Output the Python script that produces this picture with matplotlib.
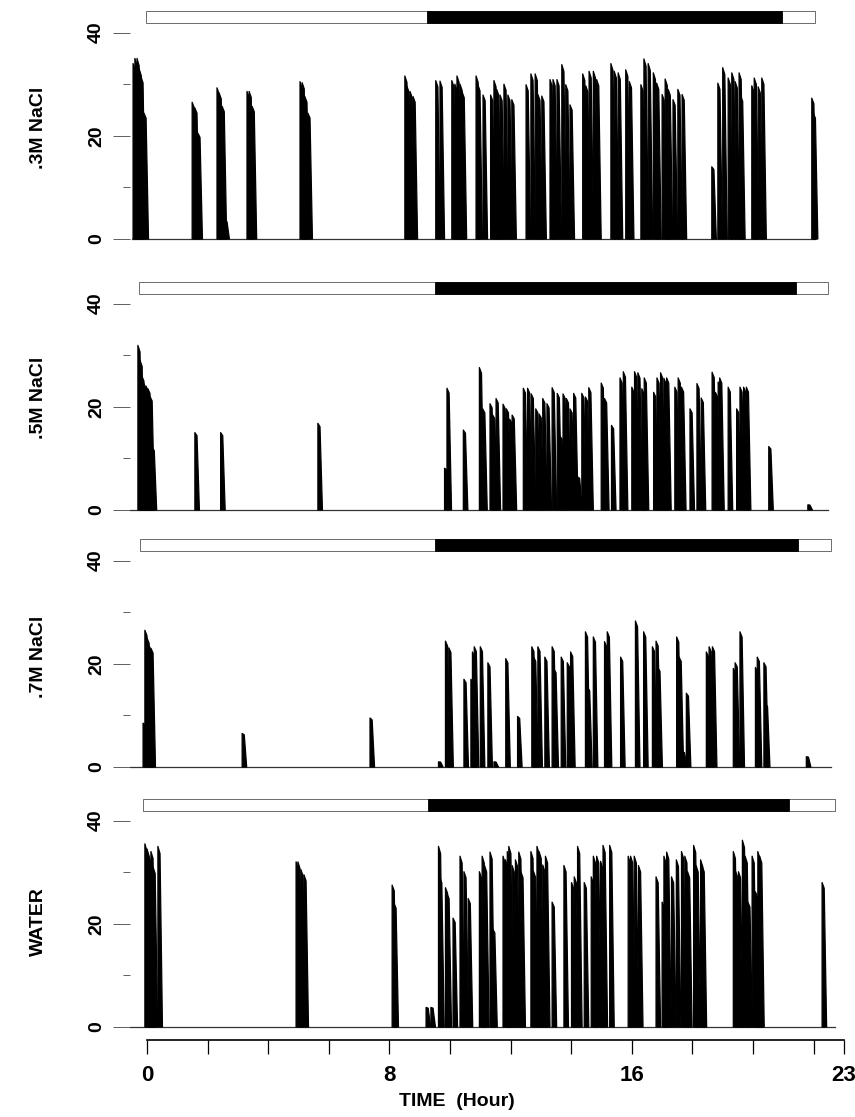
import matplotlib
matplotlib.use('Agg')
import matplotlib.pyplot as plt
from matplotlib.collections import PolyCollection
from matplotlib.patches import Rectangle

# ---------------- data (hours, licks) ----------------
panel_labels = ['.3M NaCl', '.5M NaCl', '.7M NaCl', 'WATER']

nacl03_times = [-0.46, -0.40, -0.33, -0.26, -0.20, -0.10,
                1.49, 1.58, 1.68,
                2.31, 2.38, 2.48, 2.57,
                3.30, 3.37, 3.47,
                5.05, 5.12, 5.21, 5.31,
                8.51, 8.58, 8.68, 8.78,
                9.53, 9.67, 10.06, 10.16, 10.23, 10.33, 10.40,
                10.86, 10.92, 11.09, 11.34, 11.45, 11.54,
                11.65, 11.78, 11.91, 12.04,
                12.51, 12.67, 12.81, 12.90, 13.03,
                13.30, 13.40, 13.53, 13.69, 13.82, 13.96,
                14.38, 14.48, 14.59, 14.73, 14.84,
                15.31, 15.42, 15.55, 15.80, 15.92,
                16.30, 16.40, 16.54, 16.71, 16.82,
                17.00, 17.10, 17.20, 17.36, 17.52, 17.66,
                18.64, 18.84, 19.00, 19.18, 19.30, 19.41, 19.54, 19.59,
                19.96, 20.04, 20.17, 20.29,
                21.94, 21.99]
nacl03_licks = [34, 35, 35, 33, 31.5, 24.4,
                26.5, 25.4, 20.5,
                29.3, 28.3, 25.7, 3.5,
                28.6, 28.6, 25.7,
                30.5, 30.3, 27.6, 24.4,
                31.6, 29.6, 28.6, 27.6,
                30.7, 30.6, 30.7, 30, 31.6, 30, 28.5,
                31.6, 29.9, 27.9, 27.9, 30.7, 29.0,
                27.9, 30.0, 27.9, 27.0,
                29.9, 32.0, 32.0, 28, 27.7,
                30.9, 30.9, 30.9, 33.8, 29.9, 26,
                32, 29.7, 32.5, 32.5, 30.9,
                34, 32.5, 32.2, 32.8, 30.5,
                29.9, 34.9, 34.0, 32.2, 30.2,
                28, 31, 29, 27, 29, 28,
                14, 30.2, 33.2, 31.2, 32.2, 30.5, 32.2, 27.8,
                29.7, 31.2, 29.5, 31.2,
                27.3, 24.4]

nacl05_times = [-0.30, -0.23, -0.17, -0.10, -0.03, 0.03, 0.10, 0.17,
                1.58, 2.43, 5.64,
                9.82, 9.90, 10.44, 10.97, 11.08,
                11.32, 11.41, 11.52,
                11.75, 11.86, 11.97, 12.05,
                12.42, 12.56, 12.68, 12.83, 12.94, 13.06, 13.20,
                13.37, 13.54, 13.63, 13.73, 13.84, 13.96, 14.08, 14.21,
                14.35, 14.47, 14.58,
                14.99, 15.10, 15.33,
                15.61, 15.72,
                16.00, 16.09, 16.20, 16.33, 16.41,
                16.72, 16.83, 16.95, 17.06, 17.15,
                17.42, 17.53, 17.64,
                17.92, 18.15, 18.29,
                18.65, 18.76, 18.85, 18.90,
                19.18,
                19.46, 19.57, 19.69, 19.78,
                20.52, 21.81]
nacl05_licks = [31.9, 29, 26, 24.5, 24, 23.5, 22, 12,
                15, 15, 16.8,
                8.1, 23.6, 15.5, 27.6, 19.6,
                20.6, 18.4, 21.6,
                20.5, 19.6, 17.6, 18.4,
                23.6, 23.6, 22.5, 19.6, 18.6, 21.6, 20.6,
                23.7, 22.6, 14.3, 22.5, 21.6, 19.6, 22.6, 6.4,
                22.6, 21.9, 23.7,
                24.6, 21.6, 16.4,
                25.6, 26.8,
                23.8, 26.8, 26.6, 23.5, 25.6,
                22.8, 25.6, 26.6, 25.5, 25.6,
                23.8, 25.6, 23.8,
                19.6, 24.5, 21.7,
                26.7, 22.8, 24.8, 25.6,
                23.8,
                19.6, 23.8, 23.8, 23.8,
                12.3, 1.0]

nacl07_times = [-0.13, -0.07, 0.00, 0.07, 0.13,
                3.14, 7.36,
                9.62, 9.85, 9.96,
                10.46, 10.69, 10.74, 10.80, 11.00,
                11.25, 11.45, 11.84, 12.23,
                12.70, 12.76, 12.90, 13.13,
                13.37, 13.43, 13.67, 13.87, 13.98,
                14.47, 14.54, 14.73,
                15.10, 15.19, 15.63,
                16.12, 16.39,
                16.68, 16.80, 16.86,
                17.48, 17.56, 17.67, 17.80,
                18.46, 18.55, 18.66,
                19.35, 19.41, 19.57,
                20.08, 20.14, 20.36, 20.41,
                21.76]
nacl07_licks = [8.5, 26.5, 25, 23.5, 23,
                6.5, 9.5,
                1, 24.4, 23.1,
                17.0, 17.0, 22.3, 23.3, 23.3,
                20.2, 1, 21.0, 9.8,
                23.3, 21.3, 23.3, 21.3,
                23.3, 19.0, 21.3, 20.2, 22.3,
                26.2, 15.4, 25.2,
                24.3, 26.2, 21.3,
                28.3, 26.2,
                23.3, 24.4, 19.3,
                25.2, 21.3, 2.9, 14.3,
                22.3, 23.3, 23.3,
                19.1, 20.2, 26.2,
                19.3, 21.3, 20.2, 12.2,
                2.0]

water_times = [-0.07, 0.00, 0.07, 0.13, 0.20, 0.36,
               4.92, 4.98, 5.08, 5.18,
               8.09, 8.15,
               9.21, 9.37,
               9.62, 9.66, 9.85, 9.90, 10.10,
               10.33, 10.46, 10.60,
               10.97, 11.06, 11.14, 11.32, 11.41,
               11.75, 11.83, 11.89, 11.94,
               12.05, 12.16, 12.27, 12.34,
               12.67, 12.76, 12.87, 12.94, 13.06, 13.15, 13.37,
               13.76, 14.01, 14.10, 14.21, 14.43,
               14.66, 14.73, 14.84, 14.97, 15.05, 15.27,
               15.88, 15.96, 16.08, 16.22,
               16.80, 17.00, 17.06, 17.15, 17.31, 17.47, 17.64, 17.75, 17.84,
               18.04, 18.12, 18.27, 18.32,
               19.35, 19.43, 19.52, 19.65, 19.74, 19.83,
               19.97, 20.08, 20.16, 20.22,
               22.28]
water_licks = [35.5, 34.5, 33, 34, 31, 35,
               32, 32, 30.5, 29.5,
               27.5, 24,
               3.8, 3.8,
               35.0, 29.1, 27.0, 25.9, 21.1,
               33.1, 30.1, 24.9,
               30.1, 33.1, 31.3, 33.9, 19.0,
               33.1, 32.4, 34.0, 35.0,
               31.3, 32.4, 33.9, 30.1,
               34.0, 30.1, 35.0, 34.0, 31.4, 33.1, 24.2,
               31.3, 28.0, 29.1, 35.0, 28.0,
               29.1, 33.1, 33.1, 32.1, 35.2, 35.2,
               33.1, 33.1, 33.1, 31.3,
               29.1, 24.2, 33.1, 33.9, 29.1, 32.4, 34.0, 33.1, 30.1,
               35.2, 31.3, 32.4, 31.3,
               34.0, 30.1, 30.1, 36.2, 33.1, 24.2,
               33.1, 26.2, 34.0, 33.1,
               28.0]

# light/dark bar per panel (hours)
bar_start = [-0.04, -0.26, -0.23, -0.13]
dark_start = [9.24, 9.50, 9.51, 9.29]
dark_end = [20.96, 21.42, 21.48, 21.19]
bar_end = [22.05, 22.48, 22.59, 22.71]

x_ticks = [0, 2, 4, 6, 8, 10, 12, 14, 16, 18, 20, 22, 23]
x_labeled = [0, 8, 16, 23]
y_major = [0, 20, 40]
y_minor = [10, 30]

panel_times = [nacl03_times, nacl05_times, nacl07_times, water_times]
panel_licks = [nacl03_licks, nacl05_licks, nacl07_licks, water_licks]

# ---------------- layout ----------------
W, H = 855, 1117
fig = plt.figure(figsize=(W / 100, H / 100), dpi=100)
fig.patch.set_facecolor('white')

FONT = ['Liberation Sans', 'DejaVu Sans']
NARROW = ['Liberation Sans Narrow', 'Liberation Sans', 'DejaVu Sans']

PX_PER_H = 30.3
X0_PX = 147
LEFT_PX, RIGHT_PX = 130, 850
xlim = ((LEFT_PX - X0_PX) / PX_PER_H, (RIGHT_PX - X0_PX) / PX_PER_H)

S = 5.16                      # px per lick unit
YLO, YHI = -1.5, 45.5
baselines_px = [239, 510, 767, 1027]
label_y_px = [128, 398, 657, 922]
SPIKE_W = 0.15                # wedge foot offset in hours
SPIKE_TOP = 0.07              # wedge top width in hours
BAR_LO, BAR_HI = 41.8, 44.1


def fx(px):
    return px / W


def fy(px):
    return 1 - px / H


for i in range(4):
    yb = baselines_px[i]
    top_px = yb - YHI * S
    bot_px = yb - YLO * S
    ax = fig.add_axes([fx(LEFT_PX), fy(bot_px), fx(RIGHT_PX - LEFT_PX),
                       (bot_px - top_px) / H])
    ax.set_xlim(*xlim)
    ax.set_ylim(YLO, YHI)
    for sp in ax.spines.values():
        sp.set_visible(False)
    ax.set_xticks([])

    # baseline
    ax.plot([bar_start[i] - 0.45, bar_end[i]], [0, 0], color='#333333',
            lw=0.9, zorder=1)

    # lick spikes (slanted thick strokes)
    verts = [[(t, 0), (t, h), (t + SPIKE_TOP, h * 0.96), (t + SPIKE_W, 0)]
             for t, h in zip(panel_times[i], panel_licks[i])]
    pc = PolyCollection(verts, facecolors='black', edgecolors='black',
                        linewidths=0.9, zorder=2)
    ax.add_collection(pc)

    # light/dark bar
    ax.add_patch(Rectangle((bar_start[i], BAR_LO), bar_end[i] - bar_start[i],
                           BAR_HI - BAR_LO, facecolor='white',
                           edgecolor='#555555', lw=0.6, zorder=3))
    ax.add_patch(Rectangle((dark_start[i], BAR_LO), dark_end[i] - dark_start[i],
                           BAR_HI - BAR_LO, facecolor='black',
                           edgecolor='black', lw=0.6, zorder=4))

    # y ticks
    ax.set_yticks(y_major)
    ax.set_yticks(y_minor, minor=True)
    ax.set_yticklabels([str(v) for v in y_major], rotation=90, va='center',
                       fontsize=14, fontweight='bold', family=FONT)
    ax.tick_params(axis='y', which='major', length=12, width=0.6,
                   color='#444444', pad=6)
    ax.tick_params(axis='y', which='minor', length=5, width=0.6,
                   color='#444444')

    fig.text(fx(38), fy(label_y_px[i]), panel_labels[i], rotation=90,
             ha='center', va='center', fontsize=14, fontweight='bold',
             family=FONT)

# bottom time axis
AXIS_PX = 1040
axx = fig.add_axes([fx(LEFT_PX), fy(AXIS_PX), fx(RIGHT_PX - LEFT_PX), 1 / H])
axx.set_xlim(*xlim)
axx.set_ylim(0, 1)
axx.patch.set_visible(False)
for name, sp in axx.spines.items():
    sp.set_visible(name == 'bottom')
axx.spines['bottom'].set_bounds(0, 23)
axx.spines['bottom'].set_linewidth(1.2)
axx.set_yticks([])
axx.set_xticks(x_ticks)
axx.set_xticklabels([str(v) if v in x_labeled else '' for v in x_ticks],
                    fontsize=16, fontweight='bold', family=NARROW)
axx.tick_params(axis='x', length=10, width=0.9, pad=8)

fig.text(fx(457), fy(1101), 'TIME  (Hour)', ha='center', va='center',
         fontsize=14, fontweight='bold', family=NARROW)

fig.savefig('out.png', dpi=100, facecolor='white')
